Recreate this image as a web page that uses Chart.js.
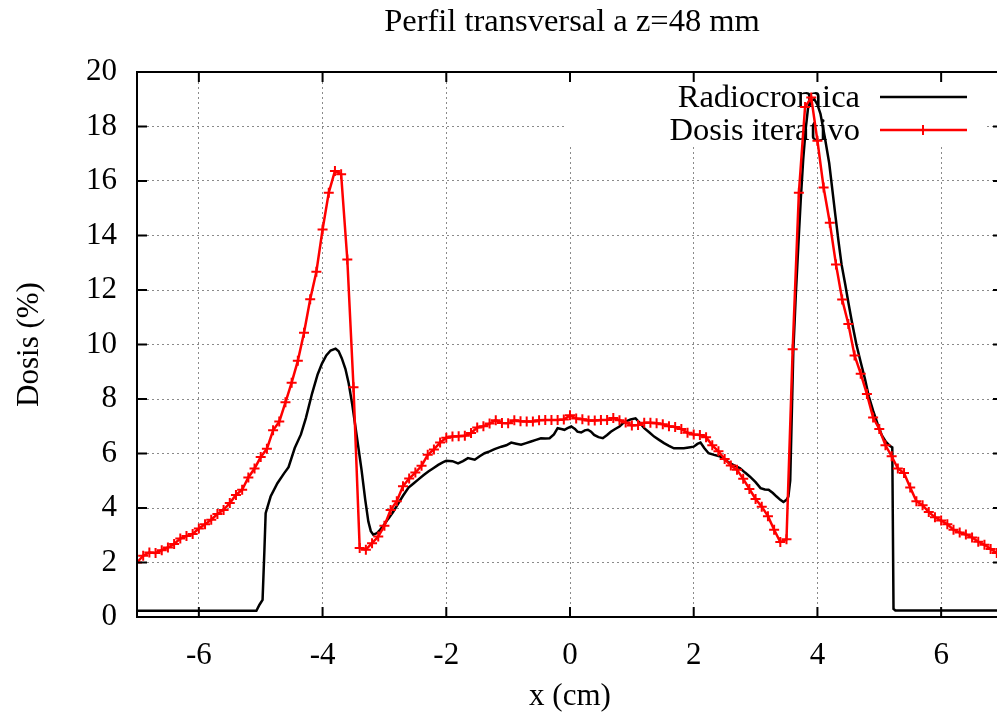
<!DOCTYPE html>
<html>
<head>
<meta charset="utf-8">
<script src="https://cdn.jsdelivr.net/npm/chart.js@4.4.1/dist/chart.umd.min.js"></script>
<style>
  html, body { margin: 0; padding: 0; background: #fff; overflow: hidden; }
  canvas { display: block; }
</style>
</head>
<body>
<canvas id="chart" width="1010" height="717"></canvas>
<script>
// Perfil transversal a z=48 mm
const titleText = 'Perfil transversal a z=48 mm';
const xTicks = [-6, -4, -2, 0, 2, 4, 6];
const yTicks = [0, 2, 4, 6, 8, 10, 12, 14, 16, 18, 20];

// Radiocromica (black, continuous)
const radioX = [
  -7.0, -5.07, -5.02, -4.97, -4.94, -4.92, -4.84, -4.73, -4.62, -4.55, -4.45, -4.35, -4.27, -4.17,
  -4.08, -4.01, -3.94, -3.87, -3.79, -3.74, -3.69, -3.63, -3.58, -3.52, -3.47, -3.42, -3.37, -3.31,
  -3.26, -3.22, -3.18, -3.12, -3.07, -3.0, -2.94, -2.86, -2.78, -2.7, -2.61, -2.53, -2.45, -2.37,
  -2.29, -2.21, -2.13, -2.05, -2.0, -1.9, -1.81, -1.73, -1.65, -1.54, -1.46, -1.38, -1.3, -1.22,
  -1.11, -1.03, -0.95, -0.87, -0.79, -0.71, -0.63, -0.55, -0.47, -0.4, -0.33, -0.26, -0.2, -0.14,
  -0.09, -0.04, 0.02, 0.08, 0.12, 0.18, 0.24, 0.29, 0.34, 0.39, 0.46, 0.53, 0.6, 0.66, 0.73, 0.8,
  0.85, 0.9, 0.98, 1.06, 1.13, 1.2, 1.28, 1.36, 1.44, 1.52, 1.6, 1.68, 1.76, 1.84, 1.92, 2.0, 2.06,
  2.11, 2.17, 2.24, 2.33, 2.43, 2.51, 2.59, 2.67, 2.75, 2.83, 2.91, 3.0, 3.08, 3.15, 3.21, 3.28,
  3.34, 3.4, 3.45, 3.5, 3.53, 3.56, 3.61, 3.65, 3.69, 3.73, 3.77, 3.81, 3.85, 3.91, 3.95, 4.0, 4.05,
  4.12, 4.19, 4.24, 4.29, 4.34, 4.39, 4.45, 4.5, 4.56, 4.63, 4.7, 4.77, 4.83, 4.9, 4.97, 5.04, 5.1,
  5.17, 5.21, 5.23, 5.26, 7.0
];
const radioY = [
  0.23, 0.23, 0.45, 0.63, 2.47, 3.81, 4.42, 4.91, 5.28, 5.5, 6.2, 6.7, 7.3, 8.2,
  8.9, 9.3, 9.6, 9.78, 9.85, 9.75, 9.5, 9.1, 8.6, 7.8, 7.0, 6.2, 5.4, 4.3,
  3.5, 3.15, 3.02, 3.08, 3.2, 3.4, 3.6, 3.85, 4.15, 4.45, 4.75, 4.9, 5.05, 5.2,
  5.34, 5.46, 5.58, 5.68, 5.73, 5.72, 5.64, 5.72, 5.83, 5.77, 5.9, 6.01, 6.08, 6.16,
  6.25, 6.3, 6.4, 6.36, 6.32, 6.38, 6.44, 6.5, 6.56, 6.55, 6.56, 6.7, 6.93, 6.9,
  6.87, 6.93, 6.99, 6.9, 6.8, 6.77, 6.85, 6.87, 6.8, 6.68, 6.6, 6.56, 6.68, 6.8, 6.9, 6.99,
  7.1, 7.17, 7.25, 7.29, 7.12, 6.93, 6.78, 6.62, 6.5, 6.38, 6.28, 6.19, 6.19, 6.19, 6.22, 6.25, 6.35,
  6.4, 6.2, 6.01, 5.95, 5.89, 5.76, 5.64, 5.55, 5.46, 5.3, 5.15, 4.95, 4.73, 4.68, 4.67, 4.55,
  4.42, 4.3, 4.22, 4.3, 4.42, 5.0, 9.74, 11.8, 13.58, 15.3, 16.78, 17.9, 18.71, 18.96, 19.0, 18.8, 18.46,
  17.6, 16.66, 15.7, 14.74, 13.8, 12.94, 12.2, 11.54, 10.8, 10.0, 9.35, 8.72, 8.1, 7.57, 7.1, 6.67, 6.45,
  6.28, 6.22, 0.3, 0.24, 0.24
];

// Dosis iterativo (red, crosses)
const iterX = [
  -7.0, -6.9, -6.8, -6.7, -6.6, -6.5, -6.4, -6.3, -6.2, -6.1,
  -6.0, -5.9, -5.8, -5.7, -5.6, -5.5, -5.4, -5.3, -5.2, -5.1,
  -5.0, -4.9, -4.8, -4.7, -4.6, -4.5, -4.4, -4.3, -4.2, -4.1,
  -4.0, -3.9, -3.8, -3.7, -3.6, -3.5, -3.4, -3.3, -3.2, -3.1,
  -3.0, -2.9, -2.8, -2.7, -2.6, -2.5, -2.4, -2.3, -2.2, -2.1,
  -2.0, -1.9, -1.8, -1.7, -1.6, -1.5, -1.4, -1.3, -1.2, -1.1,
  -1.0, -0.9, -0.8, -0.7, -0.6, -0.5, -0.4, -0.3, -0.2, -0.1,
  0.0, 0.1, 0.2, 0.3, 0.4, 0.5, 0.6, 0.7, 0.8, 0.9,
  1.0, 1.1, 1.2, 1.3, 1.4, 1.5, 1.6, 1.7, 1.8, 1.9,
  2.0, 2.1, 2.2, 2.3, 2.4, 2.5, 2.6, 2.7, 2.8, 2.9,
  3.0, 3.1, 3.2, 3.3, 3.4, 3.5, 3.6, 3.7, 3.8, 3.9,
  4.0, 4.1, 4.2, 4.3, 4.4, 4.5, 4.6, 4.7, 4.8, 4.9,
  5.0, 5.1, 5.2, 5.3, 5.4, 5.5, 5.6, 5.7, 5.8, 5.9,
  6.0, 6.1, 6.2, 6.3, 6.4, 6.5, 6.6, 6.7, 6.8, 6.9,
  7.0
];
const iterY = [
  2.0, 2.25, 2.37, 2.35, 2.45, 2.55, 2.68, 2.88, 2.97, 3.05,
  3.25, 3.4, 3.57, 3.78, 3.93, 4.18, 4.48, 4.67, 5.12, 5.45,
  5.87, 6.17, 6.85, 7.17, 7.88, 8.6, 9.4, 10.43, 11.66, 12.67,
  14.22, 15.57, 16.37, 16.25, 13.12, 8.43, 2.53, 2.47, 2.71, 2.95,
  3.35, 3.93, 4.25, 4.8, 5.08, 5.3, 5.55, 5.95, 6.15, 6.4,
  6.58, 6.62, 6.63, 6.65, 6.75, 6.95, 7.0, 7.1, 7.22, 7.12,
  7.11, 7.22, 7.18, 7.17, 7.17, 7.22, 7.23, 7.23, 7.23, 7.25,
  7.4, 7.28, 7.26, 7.21, 7.21, 7.23, 7.23, 7.3, 7.22, 7.14,
  7.03, 7.05, 7.13, 7.13, 7.11, 7.07, 7.0, 6.97, 6.9, 6.76,
  6.7, 6.68, 6.6, 6.3, 6.08, 5.8, 5.56, 5.4, 5.07, 4.7,
  4.33, 4.05, 3.7, 3.2, 2.75, 2.85, 9.83, 15.57, 18.72, 19.06,
  17.48, 15.76, 14.47, 12.94, 11.65, 10.75, 9.6, 8.93, 8.18, 7.32,
  6.9, 6.3, 5.9, 5.45, 5.28, 4.75, 4.25, 4.1, 3.85, 3.66,
  3.54, 3.4, 3.2, 3.1, 3.03, 2.92, 2.76, 2.65, 2.5, 2.35,
  2.2
];

const FONT = '"Liberation Serif", "Times New Roman", serif';

// gnuplot-like frame, inward ticks, title and opaque key
const framePlugin = {
  id: 'frame',
  beforeDatasetsDraw(chart) {
    const { ctx } = chart;
    ctx.save();
    // opaque key box
    ctx.fillStyle = '#fff';
    ctx.fillRect(567, 73, 418, 74);
    ctx.font = '32.5px ' + FONT;
    ctx.fillStyle = '#000';
    ctx.textAlign = 'right';
    ctx.textBaseline = 'middle';
    ctx.fillText('Radiocromica', 860, 98);
    ctx.fillText('Dosis iterativo', 860, 131);
    ctx.lineWidth = 2.5;
    ctx.strokeStyle = '#000';
    ctx.beginPath(); ctx.moveTo(880, 97); ctx.lineTo(967, 97); ctx.stroke();
    ctx.strokeStyle = '#ff0000';
    ctx.beginPath(); ctx.moveTo(880, 130); ctx.lineTo(967, 130); ctx.stroke();
    ctx.lineWidth = 2;
    ctx.beginPath();
    ctx.moveTo(923 - 5, 130); ctx.lineTo(923 + 5, 130);
    ctx.moveTo(923, 125); ctx.lineTo(923, 135);
    ctx.stroke();
    ctx.restore();
  },
  afterDraw(chart) {
    const { ctx, chartArea: a, scales } = chart;
    ctx.save();
    ctx.strokeStyle = '#000';
    ctx.lineWidth = 2;
    ctx.strokeRect(a.left, a.top, a.right - a.left, a.bottom - a.top);
    ctx.beginPath();
    xTicks.forEach(v => {
      const px = scales.x.getPixelForValue(v);
      ctx.moveTo(px, a.bottom); ctx.lineTo(px, a.bottom - 10);
      ctx.moveTo(px, a.top); ctx.lineTo(px, a.top + 10);
    });
    yTicks.forEach(v => {
      const py = scales.y.getPixelForValue(v);
      ctx.moveTo(a.left, py); ctx.lineTo(a.left + 10, py);
      ctx.moveTo(a.right, py); ctx.lineTo(a.right - 10, py);
    });
    ctx.stroke();
    ctx.font = '32.5px ' + FONT;
    ctx.fillStyle = '#000';
    ctx.textAlign = 'center';
    ctx.textBaseline = 'middle';
    ctx.fillText(titleText, 572, 22);
    ctx.restore();
  }
};

const ctx = document.getElementById('chart').getContext('2d');
new Chart(ctx, {
  type: 'scatter',
  data: {
    datasets: [
      {
        label: 'Radiocromica',
        data: radioX.map((x, i) => ({ x: x, y: radioY[i] })),
        showLine: true,
        borderColor: '#000000',
        borderWidth: 2.5,
        pointRadius: 0,
        tension: 0,
        order: 2
      },
      {
        label: 'Dosis iterativo',
        data: iterX.map((x, i) => ({ x: x, y: iterY[i] })),
        showLine: true,
        borderColor: '#ff0000',
        borderWidth: 2.5,
        pointStyle: 'cross',
        pointRadius: 5,
        pointBorderWidth: 2,
        pointBorderColor: '#ff0000',
        pointBackgroundColor: '#ff0000',
        tension: 0,
        order: 1
      }
    ]
  },
  options: {
    responsive: false,
    animation: false,
    layout: { padding: { left: 0, right: 3, top: 72, bottom: 0 } },
    plugins: {
      legend: { display: false },
      title: { display: false },
      tooltip: { enabled: false }
    },
    scales: {
      x: {
        type: 'linear',
        min: -7,
        max: 7,
        afterBuildTicks: s => { s.ticks = xTicks.map(v => ({ value: v })); },
        afterFit: s => { s.height = 100; },
        grid: { color: '#8a8a8a', lineWidth: 1, drawTicks: false },
        border: { display: false, dash: [2, 3] },
        ticks: { color: '#000', padding: 20, font: { family: FONT, size: 31 }, maxRotation: 0 },
        title: { display: true, text: 'x (cm)', color: '#000', font: { family: FONT, size: 31 }, padding: { top: 0, bottom: 2 } }
      },
      y: {
        type: 'linear',
        min: 0,
        max: 20,
        afterBuildTicks: s => { s.ticks = yTicks.map(v => ({ value: v })); },
        afterFit: s => { s.width = 137; },
        grid: { color: '#8a8a8a', lineWidth: 1, drawTicks: false },
        border: { display: false, dash: [2, 3] },
        ticks: { color: '#000', padding: 20, font: { family: FONT, size: 31 } },
        title: { display: true, text: 'Dosis (%)', color: '#000', font: { family: FONT, size: 31 }, padding: { top: 11, bottom: 0 } }
      }
    }
  },
  plugins: [framePlugin]
});
</script>
</body>
</html>
